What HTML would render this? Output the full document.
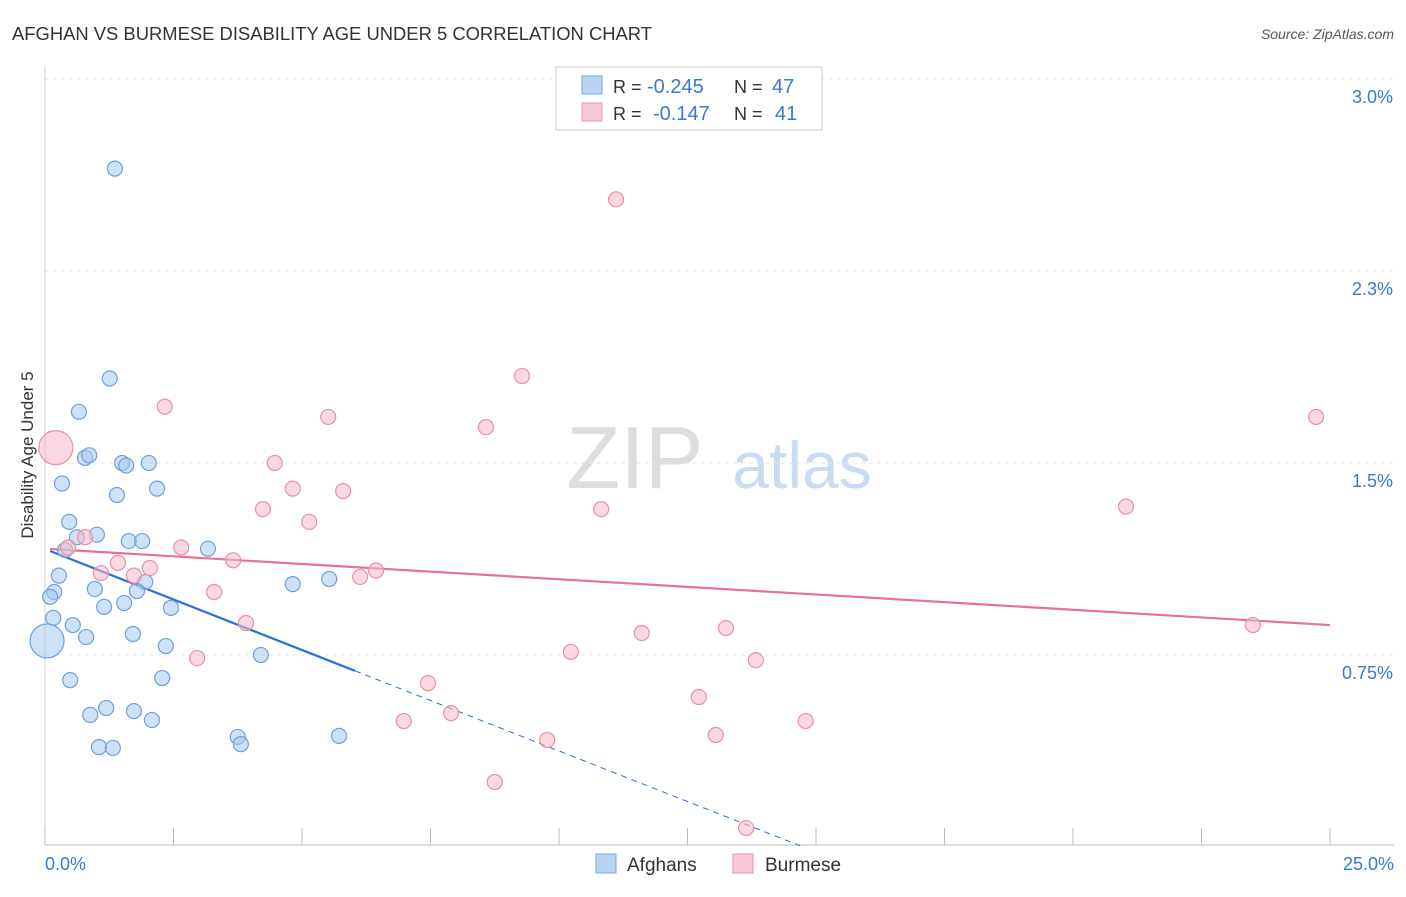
<!DOCTYPE html>
<html><head><meta charset="utf-8"><style>
body{margin:0;background:#fff;font-family:"Liberation Sans",sans-serif;}
svg text{font-family:"Liberation Sans",sans-serif;}
</style></head><body>
<svg id="chart" width="1406" height="892" xmlns="http://www.w3.org/2000/svg">
<text x="12" y="40" font-size="18" fill="#333" textLength="640" lengthAdjust="spacingAndGlyphs">AFGHAN VS BURMESE DISABILITY AGE UNDER 5 CORRELATION CHART</text>
<text x="1394" y="39" font-size="14" fill="#555" text-anchor="end" font-style="italic">Source: ZipAtlas.com</text>
<text x="33" y="455" font-size="17" fill="#333" text-anchor="middle" transform="rotate(-90 33 455)">Disability Age Under 5</text>
<g>
<text x="635" y="488" font-size="88" fill="#ddd" text-anchor="middle" font-family="Liberation Serif">ZIP</text>
<text x="802" y="488" font-size="66" fill="#c9dcf2" text-anchor="middle">atlas</text>
</g>
<g id="grid"></g><g id="axes"></g><g id="trends"></g><g id="pts"></g>
<g>
<rect x="556" y="67" width="266" height="63" fill="#fff" stroke="#ccc"/>
<rect x="582" y="76" width="20" height="18" fill="#b9d3f3" stroke="#7aaae0"/>
<rect x="582" y="103" width="20" height="18" fill="#f9c8d6" stroke="#e890a8"/>
<text x="613" y="93" font-size="18" fill="#333">R =</text>
<text x="647" y="93" font-size="20" fill="#3a78d4">-0.245</text>
<text x="734" y="93" font-size="18" fill="#333">N =</text>
<text x="772" y="93" font-size="20" fill="#3a78d4">47</text>
<text x="613" y="120" font-size="18" fill="#333">R =</text>
<text x="653" y="120" font-size="20" fill="#3a78d4">-0.147</text>
<text x="734" y="120" font-size="18" fill="#333">N =</text>
<text x="775" y="120" font-size="20" fill="#3a78d4">41</text>
</g>
<g>
<rect x="596" y="854" width="20" height="19" fill="#b9d3f3" stroke="#7aaae0"/>
<text x="627" y="871" font-size="19" fill="#333">Afghans</text>
<rect x="733" y="854" width="20" height="19" fill="#f9c8d6" stroke="#e890a8"/>
<text x="765" y="871" font-size="19" fill="#333">Burmese</text>
</g>
</svg>
<script>
const xTicks=[0,2.5,5,7.5,10,12.5,15,17.5,20,22.5,25];
const yTicks=[0.75,1.5,2.25,3.0];
const yTickLabels=["0.75%","1.5%","2.3%","3.0%"];
const afghanX=[1.36,1.26,0.66,0.78,0.86,1.50,1.58,2.02,0.33,1.40,2.18,0.47,1.01,0.62,1.63,1.89,0.39,3.17,0.27,1.95,0.18,0.10,0.97,1.79,4.82,5.53,1.54,1.15,2.45,0.16,0.54,0.80,1.71,2.35,4.20,0.04,0.49,2.28,1.19,1.73,0.88,2.08,3.75,3.81,1.05,1.32,5.72];
const afghanY=[2.65,1.83,1.70,1.52,1.53,1.50,1.49,1.50,1.42,1.375,1.40,1.27,1.22,1.21,1.195,1.195,1.16,1.165,1.06,1.035,0.996,0.977,1.008,1.00,1.027,1.047,0.953,0.938,0.934,0.895,0.867,0.82,0.832,0.785,0.75,0.805,0.652,0.66,0.543,0.531,0.516,0.496,0.43,0.402,0.39,0.387,0.434];
const burmeseX=[11.11,9.28,2.33,5.51,8.58,24.73,0.21,4.47,4.82,5.80,4.24,10.82,5.14,21.03,0.78,0.45,2.65,3.66,1.42,1.09,2.04,1.73,6.44,6.13,3.29,3.91,11.61,13.25,23.50,2.96,10.23,13.83,7.45,12.72,7.90,6.98,14.80,9.77,13.05,8.75,13.64];
const burmeseY=[2.53,1.84,1.72,1.68,1.64,1.68,1.56,1.50,1.40,1.39,1.32,1.32,1.27,1.33,1.21,1.17,1.17,1.12,1.11,1.07,1.09,1.06,1.08,1.055,0.996,0.875,0.836,0.855,0.867,0.738,0.762,0.73,0.64,0.586,0.523,0.492,0.492,0.418,0.4375,0.254,0.074];
const bigAfghan=35, bigBurmese=6;
const afghanTrend=[1.164,-0.0789,6.03,14.69];
const burmeseTrend=[1.164,0.867];
const X=v=>45+v/25*1285, Y=v=>847-v/0.75*192;
const NS="http://www.w3.org/2000/svg";
function mk(p,t,a){const e=document.createElementNS(NS,t);for(const k in a)e.setAttribute(k,a[k]);p.appendChild(e);return e;}
const grid=document.getElementById('grid'),axes=document.getElementById('axes'),tr=document.getElementById('trends'),pts=document.getElementById('pts');
yTicks.forEach((v,i)=>{
 const l=mk(grid,'line',{x1:45,x2:1394,y1:Y(v),y2:Y(v),stroke:'#e3e3e3','stroke-dasharray':'4,4'});
 
 
 const t=mk(axes,'text',{x:1393,y:Y(v)+24,'font-size':18,fill:'#3a78d4','text-anchor':'end'});t.textContent=yTickLabels[i];
 
 
});
const ax=mk(axes,'line',{x1:45,x2:1394,y1:845,y2:845,stroke:'#bbb'});


const ay=mk(axes,'line',{x1:45,x2:45,y1:67,y2:845,stroke:'#ccc'});


xTicks.forEach(v=>{const t=mk(axes,'line',{x1:X(v),x2:X(v),y1:828,y2:845,stroke:'#bbb'});
 
 });
[[0,"0.0%",'start',45],[25,"25.0%",'end',1394]].forEach(([v,s,a,x])=>{const t=mk(axes,'text',{x:x,y:870,'font-size':18,fill:'#3a78d4','text-anchor':a});t.textContent=s;
 
 });
function dots(xs,ys,fill,stroke,big,name){xs.forEach((x,i)=>{const c=mk(pts,'circle',{cx:X(x),cy:Y(ys[i]),r:i===big?17:7.5,fill:fill,'fill-opacity':0.55,stroke:stroke,'stroke-width':1.2});
 
 });}
dots(afghanX,afghanY,'#a8c8f0','#6f9fdc',bigAfghan,'afghan-point');
dots(burmeseX,burmeseY,'#f5b8c8','#e890a8',bigBurmese,'burmese-point');
const af=x=>afghanTrend[0]+afghanTrend[1]*x;
const l1=mk(tr,'line',{x1:X(0.1),y1:Y(af(0.1)),x2:X(afghanTrend[2]),y2:Y(af(afghanTrend[2])),stroke:'#2b6fd6','stroke-width':2.2});


const l2=mk(tr,'line',{x1:X(afghanTrend[2]),y1:Y(af(afghanTrend[2])),x2:X(afghanTrend[3]),y2:Y(af(afghanTrend[3])),stroke:'#2b6fd6','stroke-width':1,'stroke-dasharray':'6,5'});


const l3=mk(tr,'line',{x1:X(0.1),y1:Y(burmeseTrend[0]),x2:X(25),y2:Y(burmeseTrend[1]),stroke:'#e8709a','stroke-width':2.2});


</script>
</body></html>
